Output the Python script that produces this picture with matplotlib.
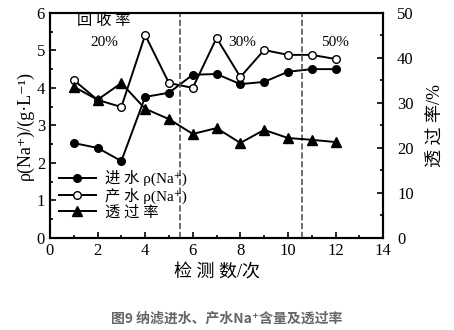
import numpy as np
import matplotlib.pyplot as plt
from matplotlib.ticker import MultipleLocator

plt.rcParams['font.family'] = ['Liberation Serif', 'Noto Sans CJK SC', 'DejaVu Serif']

# data
n = [1, 2, 3, 4, 5, 6, 7, 8, 9, 10, 11, 12]
feed = [2.53, 2.40, 2.05, 3.76, 3.87, 4.35, 4.37, 4.10, 4.16, 4.43, 4.50, 4.50]
prod = [4.21, 3.68, 3.49, 5.41, 4.13, 4.00, 5.33, 4.29, 5.01, 4.88, 4.88, 4.77]
perm = [33.6, 30.7, 34.4, 28.7, 26.4, 23.1, 24.4, 21.1, 24.0, 22.2, 21.8, 21.3]
splits = [5.45, 10.6]
stage_x = [2.27, 8.07, 11.97]
stage_lbl = ['20%', '30%', '50%']

fig = plt.figure(figsize=(4.54, 3.30), dpi=100)
ax = fig.add_axes([0.110, 0.279, 0.734, 0.682])
ax2 = ax.twinx()

l1, = ax.plot(n, feed, 'k-o', ms=5.5, lw=1.4, label='进 水 ρ(Na⁺)')
l2, = ax.plot(n, prod, 'k-o', ms=5.5, lw=1.4, mfc='white', label='产 水 ρ(Na⁺)')
l3, = ax2.plot(n, perm, 'k-^', ms=7, lw=1.4, label='透 过 率')

for s in splits:
    ax.axvline(s, color='#555555', ls='--', lw=1.2)

ax.text(stage_x[0], 5.78, '回 收 率', fontsize=11, ha='center', va='center')
for x, t in zip(stage_x, stage_lbl):
    ax.text(x, 5.22, t, fontsize=11, ha='center', va='center')

ax.set_xlim(0, 14)
ax.set_ylim(0, 6)
ax2.set_ylim(0, 50)
ax.xaxis.set_major_locator(MultipleLocator(2))
ax.xaxis.set_minor_locator(MultipleLocator(1))
ax.yaxis.set_major_locator(MultipleLocator(1))
ax.yaxis.set_minor_locator(MultipleLocator(0.5))
ax2.yaxis.set_major_locator(MultipleLocator(10))
ax2.yaxis.set_minor_locator(MultipleLocator(5))

ax.tick_params(which='both', direction='in', top=False, labelsize=12, width=1.2)
ax.tick_params(which='major', length=4)
ax.tick_params(which='minor', length=2.5)
ax2.tick_params(which='both', direction='in', labelsize=12, width=1.2, pad=10)
ax2.tick_params(which='major', length=4)
ax2.tick_params(which='minor', length=2.5)
for a in (ax, ax2):
    for sp in a.spines.values():
        sp.set_linewidth(1.5)

ax.set_xlabel('检 测 数/次', fontsize=13)
ax.set_ylabel('ρ(Na⁺)/(g·L⁻¹)', fontsize=13, labelpad=2)
ax2.set_ylabel('透 过 率/%', fontsize=13, labelpad=10)

leg = ax.legend(handles=[l1, l2, l3], loc='lower left', bbox_to_anchor=(0.0, 0.04),
                frameon=False, fontsize=11, handlelength=2.4, handletextpad=0.6,
                labelspacing=0.1, borderaxespad=0.2)

fig.text(0.5, 0.035, '图9 纳滤进水、产水Na⁺含量及透过率', ha='center', va='center',
         fontsize=10, color='#666666', fontweight='bold', family=['Noto Sans CJK SC', 'DejaVu Sans'])

fig.savefig('out.png', dpi=100)
